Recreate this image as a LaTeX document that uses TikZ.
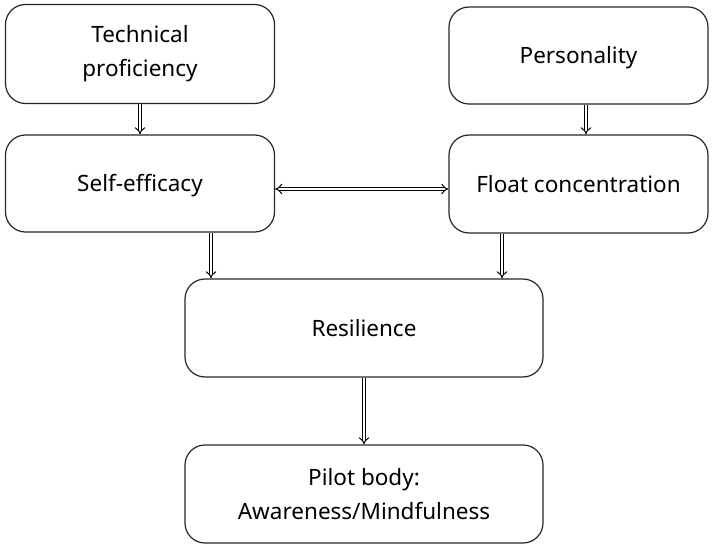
\documentclass[tikz,border=0pt]{standalone}
\usepackage{fontspec}
\setmainfont{Noto Sans}
\usetikzlibrary{arrows.meta,calc}
\begin{document}
\begin{tikzpicture}[x=1pt,y=-1pt,
  box/.style={draw=black!85, line width=1.2pt, rounded corners=20pt, align=center,
    font=\fontsize{22.5}{34}\selectfont, inner sep=0pt},
  oneline/.style={text height=17pt, text depth=0pt},
  dbl/.style={draw=black, line width=1pt, double=white, double distance=2.6pt, -{Implies}},
  dblboth/.style={draw=black, line width=1pt, double=white, double distance=2.6pt, {Implies}-{Implies}}]
\useasboundingbox (0,0) rectangle (712,545);
\node[box, minimum width=269pt, minimum height=99pt] (tech) at (140,54) {Technical\\proficiency};
\node[box, oneline, minimum width=259pt, minimum height=97pt] (pers) at (578.5,55.5) {Personality};
\node[box, oneline, minimum width=269pt, minimum height=97pt] (self) at (140,183.5) {Self-efficacy};
\node[box, oneline, minimum width=259pt, minimum height=98pt] (float) at (578.5,184) {Float concentration};
\node[box, oneline, minimum width=358pt, minimum height=98pt] (res) at (364,328) {Resilience};
\node[box, minimum width=358pt, minimum height=98pt] (pilot) at (364,494) {Pilot body:\\Awareness/Mindfulness};
\draw[dbl] (tech.south) -- (self.north);
\draw[dbl] ([xshift=7.5pt]pers.south) -- ([xshift=7.5pt]pers.south |- float.north);
\draw[dblboth] ([yshift=-5.5pt]self.east) -- ([yshift=-5.5pt]self.east -| float.west);
\draw[dbl] ([xshift=71pt]self.south) -- ([xshift=71pt]self.south |- res.north);
\draw[dbl] ([xshift=-76.5pt]float.south) -- ([xshift=-76.5pt]float.south |- res.north);
\draw[dbl] (res.south) -- (pilot.north);
\end{tikzpicture}
\end{document}
